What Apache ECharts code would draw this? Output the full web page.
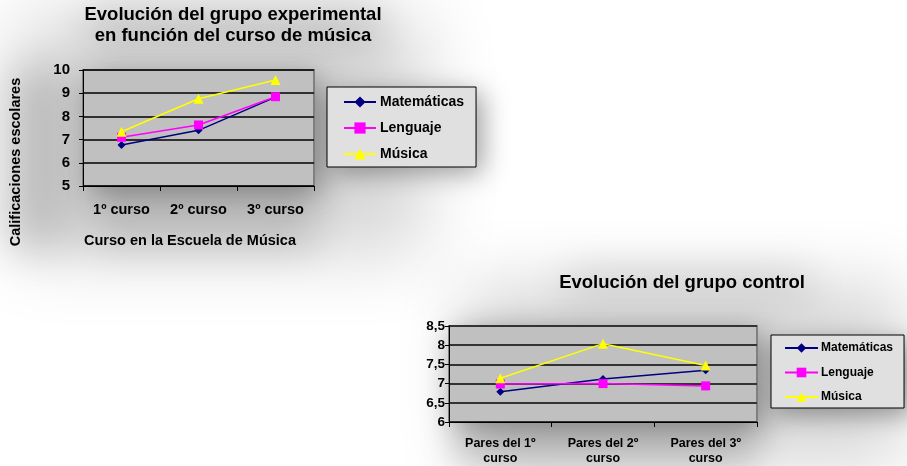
<!DOCTYPE html>
<html>
<head>
<meta charset="utf-8">
<script src="https://cdn.jsdelivr.net/npm/echarts@6/dist/echarts.min.js"></script>
<style>
html,body{margin:0;padding:0;background:#fff;}
#chart{width:907px;height:466px;}
</style>
</head>
<body>
<div id="chart"></div>
<script>
// ---- Data ----
var seriesNames = ['Matemáticas', 'Lenguaje', 'Música'];
var categories1 = ['1º curso', '2º curso', '3º curso'];
var mat1 = [6.77, 7.4, 8.83];
var leng1 = [7.1, 7.63, 8.85];
var mus1 = [7.34, 8.76, 9.57];
var yTicks1 = { min: 5, max: 10, interval: 1 };

var categories2 = ['Pares del 1º\ncurso', 'Pares del 2º\ncurso', 'Pares del 3º\ncurso'];
var mat2 = [6.79, 7.12, 7.35];
var leng2 = [6.99, 7.0, 6.94];
var mus2 = [7.14, 8.04, 7.47];
var yTicks2 = { min: 6, max: 8.5, interval: 0.5 };

var title1 = 'Evolución del grupo experimental\nen función del curso de música';
var title2 = 'Evolución del grupo control';
var xName1 = 'Curso en la Escuela de Música';
var yName1 = 'Calificaciones escolares';

// ---- Styles ----
var FONT = '"Liberation Sans", Arial, sans-serif';
var colors = ['#000080', '#FF00FF', '#FFFF00'];
var symbols = ['diamond', 'rect', 'triangle'];
var symbolSizes = [8, 9, 10];

var chart = echarts.init(document.getElementById('chart'));

function mkSeries(data, idx, axisIdx) {
  return {
    type: 'line',
    name: seriesNames[idx],
    xAxisIndex: axisIdx,
    yAxisIndex: axisIdx,
    data: data,
    symbol: symbols[idx],
    symbolSize: symbolSizes[idx],
    showAllSymbol: true,
    lineStyle: { color: colors[idx], width: 1.5 },
    itemStyle: { color: colors[idx] },
    emphasis: { disabled: true },
    animation: false,
    z: 3 + idx
  };
}

// blurred soft shadow: the rect sits off-canvas, only its shadow is visible
var OFF = 3000;
function shadow(x, y, w, h, blur, alpha) {
  return {
    type: 'rect', z: -10, silent: true,
    shape: { x: x - OFF, y: y, width: w, height: h },
    style: {
      fill: '#000', shadowBlur: blur, shadowOffsetX: OFF, shadowOffsetY: 0,
      shadowColor: 'rgba(0,0,0,' + alpha + ')'
    }
  };
}

var option = {
  backgroundColor: '#ffffff',
  animation: false,
  textStyle: { fontFamily: FONT },
  title: [
    {
      text: title1, left: 233, top: 4, textAlign: 'center', padding: 0,
      textStyle: { fontFamily: FONT, fontSize: 18.5, fontWeight: 'bold', color: '#000', lineHeight: 21 }
    },
    {
      text: title2, left: 682, top: 272, textAlign: 'center', padding: 0,
      textStyle: { fontFamily: FONT, fontSize: 18.5, fontWeight: 'bold', color: '#000', lineHeight: 21 }
    }
  ],
  legend: [
    {
      orient: 'vertical', left: 327, top: 87,
      padding: [8, 12, 6, 16],
      itemWidth: 32, itemHeight: 14, itemGap: 12,
      data: seriesNames,
      backgroundColor: '#e0e0e0', borderColor: '#000', borderWidth: 1,
      textStyle: { fontFamily: FONT, fontSize: 14, fontWeight: 'bold', color: '#000', padding: [0, 0, 0, -1] },
      selectedMode: false
    },
    {
      orient: 'vertical', left: 771, top: 335,
      padding: [7, 11, 5, 13],
      itemWidth: 33, itemHeight: 12, itemGap: 12.5,
      data: seriesNames,
      backgroundColor: '#e0e0e0', borderColor: '#000', borderWidth: 1,
      textStyle: { fontFamily: FONT, fontSize: 12, fontWeight: 'bold', color: '#000', padding: [0, 0, 0, -2] },
      selectedMode: false
    }
  ],
  grid: [
    { left: 83, top: 70, width: 231, height: 116, show: true, backgroundColor: '#c0c0c0', borderColor: '#808080', borderWidth: 2 },
    { left: 449, top: 326, width: 308, height: 96, show: true, backgroundColor: '#c0c0c0', borderColor: '#808080', borderWidth: 2 }
  ],
  xAxis: [
    {
      type: 'category', gridIndex: 0, data: categories1, boundaryGap: true,
      name: xName1, nameLocation: 'middle', nameGap: 47,
      nameTextStyle: { fontFamily: FONT, fontSize: 14.5, fontWeight: 'bold', color: '#000', padding: [0, 17, 0, 0] },
      axisLine: { lineStyle: { color: '#000', width: 1 } },
      axisTick: { show: true, length: 5, lineStyle: { color: '#000' } },
      axisLabel: { fontFamily: FONT, fontSize: 14.5, fontWeight: 'bold', color: '#000', margin: 16 }
    },
    {
      type: 'category', gridIndex: 1, data: categories2, boundaryGap: true,
      axisLine: { lineStyle: { color: '#000', width: 1 } },
      axisTick: { show: true, length: 5, lineStyle: { color: '#000' } },
      axisLabel: { fontFamily: FONT, fontSize: 12.5, fontWeight: 'bold', color: '#000', margin: 14, lineHeight: 15 }
    }
  ],
  yAxis: [
    {
      type: 'value', gridIndex: 0, min: yTicks1.min, max: yTicks1.max, interval: yTicks1.interval,
      axisLine: { show: true, lineStyle: { color: '#000', width: 1 } },
      axisTick: { show: true, length: 4, lineStyle: { color: '#000' } },
      splitLine: { show: true, lineStyle: { color: '#000', width: 1.5 } },
      axisLabel: { fontFamily: FONT, fontSize: 15, fontWeight: 'bold', color: '#000', margin: 13 }
    },
    {
      type: 'value', gridIndex: 1, min: yTicks2.min, max: yTicks2.max, interval: yTicks2.interval,
      axisLine: { show: true, lineStyle: { color: '#000', width: 1 } },
      axisTick: { show: true, length: 4, lineStyle: { color: '#000' } },
      splitLine: { show: true, lineStyle: { color: '#333', width: 2 } },
      axisLabel: {
        fontFamily: FONT, fontSize: 13.5, fontWeight: 'bold', color: '#000', margin: 4,
        formatter: function (v) { return String(v).replace('.', ','); }
      }
    }
  ],
  graphic: [
    // chart 1 halo
    shadow(15, 15, 410, 240, 70, 0.16),
    shadow(90, 8, 290, 38, 40, 0.16),
    shadow(8, 70, 60, 180, 40, 0.16),
    shadow(90, 198, 225, 50, 40, 0.16),
    shadow(90, 78, 231, 116, 30, 0.42),
    shadow(333, 93, 150, 80, 25, 0.36),
    // chart 2 halo
    shadow(465, 285, 440, 180, 70, 0.16),
    shadow(565, 272, 245, 24, 40, 0.16),
    shadow(455, 432, 300, 34, 35, 0.18),
    shadow(455, 333, 308, 96, 30, 0.42),
    shadow(777, 342, 135, 73, 25, 0.36),
    {
      type: 'text', z: 100, x: 16, y: 162, rotation: Math.PI / 2,
      style: {
        text: yName1, align: 'center', verticalAlign: 'middle',
        font: 'bold 14.5px ' + FONT, fill: '#000'
      }
    }
  ],
  series: [
    mkSeries(mat1, 0, 0), mkSeries(leng1, 1, 0), mkSeries(mus1, 2, 0),
    mkSeries(mat2, 0, 1), mkSeries(leng2, 1, 1), mkSeries(mus2, 2, 1)
  ]
};
chart.setOption(option);
</script>
</body>
</html>
